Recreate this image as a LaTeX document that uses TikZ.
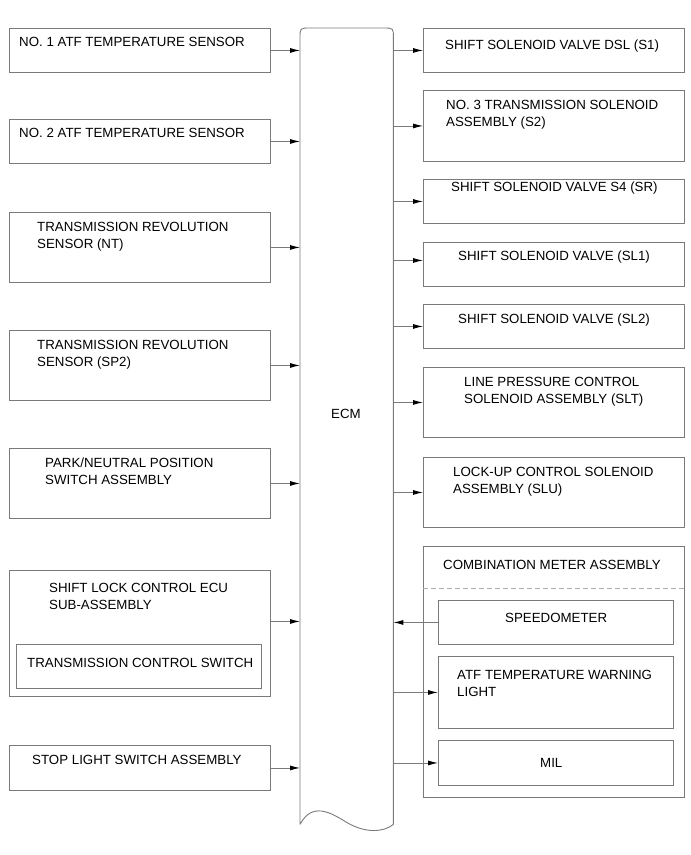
\documentclass[tikz,border=0pt]{standalone}
\usepackage{fontspec}
\setmainfont{Liberation Sans}
\usetikzlibrary{arrows.meta}
\definecolor{frame}{HTML}{7A7A7A}
\definecolor{dashgray}{HTML}{ADADAD}

\begin{document}
\begin{tikzpicture}[x=1pt,y=-1pt,
  box/.style={draw=frame,line width=0.9pt,anchor=north west,inner sep=0pt,minimum width=261pt},
  subbox/.style={box,minimum width=235pt},
  lbl/.style={anchor=base west,inner sep=0pt,align=left,font=\fontsize{13.3}{17}\selectfont},
  conn/.style={draw=frame,line width=0.9pt,-{Latex[length=10pt,width=5pt,color=black]}}]
\useasboundingbox (0,0) rectangle (691,855);
% inputs
\node[box,minimum height=44pt] (in1) at (9,28) {};
\node[lbl] (in1t) at (19,46) {NO. 1 ATF TEMPERATURE SENSOR};
\node[box,minimum height=44pt] (in2) at (9,119) {};
\node[lbl] (in2t) at (19,137) {NO. 2 ATF TEMPERATURE SENSOR};
\node[box,minimum height=70pt] (in3) at (9,212) {};
\node[lbl] (in3t) at (37,248) {TRANSMISSION REVOLUTION\\SENSOR (NT)};
\node[box,minimum height=70pt] (in4) at (9,330) {};
\node[lbl] (in4t) at (37,366) {TRANSMISSION REVOLUTION\\SENSOR (SP2)};
\node[box,minimum height=70pt] (in5) at (9,448) {};
\node[lbl] (in5t) at (45,484) {PARK/NEUTRAL POSITION\\SWITCH ASSEMBLY};
\node[box,minimum height=126pt] (in6) at (9,570) {};
\node[lbl] (in6t) at (49,609) {SHIFT LOCK CONTROL ECU\\SUB-ASSEMBLY};
\node[box,minimum width=245pt,minimum height=44pt] (tcs) at (16,644) {};
\node[lbl] (tcst) at (27,667) {TRANSMISSION CONTROL SWITCH};
\node[box,minimum height=45pt] (in7) at (9,745) {};
\node[lbl] (in7t) at (32,764) {STOP LIGHT SWITCH ASSEMBLY};
% ecm
\node[anchor=north west,inner sep=0pt,minimum width=93pt,minimum height=796pt] (ecm) at (300,28) {};
\draw[frame,line width=0.9pt] (ecm.south west) -- ([yshift=-10pt]ecm.north west)
  .. controls (ecm.north west) .. ([xshift=10pt]ecm.north west)
  -- ([xshift=-10pt]ecm.north east) .. controls (ecm.north east) .. ([yshift=-10pt]ecm.north east)
  -- (ecm.south east) .. controls (384,832) and (366,834) .. (346,822)
  .. controls (330,812) and (312,802) .. (ecm.south west);
\node[anchor=base,inner sep=0pt,font=\fontsize{13.3}{17}\selectfont] (ecmt) at (346,418) {ECM};
% outputs
\node[box,minimum height=44pt] (out1) at (423,28) {};
\node[lbl] (out1t) at (445,49) {SHIFT SOLENOID VALVE DSL (S1)};
\node[box,minimum height=71pt] (out2) at (423,90) {};
\node[lbl] (out2t) at (446,126) {NO. 3 TRANSMISSION SOLENOID\\ASSEMBLY (S2)};
\node[box,minimum height=44pt] (out3) at (423,179) {};
\node[lbl] (out3t) at (451,191) {SHIFT SOLENOID VALVE S4 (SR)};
\node[box,minimum height=44pt] (out4) at (423,242) {};
\node[lbl] (out4t) at (458,260) {SHIFT SOLENOID VALVE (SL1)};
\node[box,minimum height=44pt] (out5) at (423,304) {};
\node[lbl] (out5t) at (458,323) {SHIFT SOLENOID VALVE (SL2)};
\node[box,minimum height=70pt] (out6) at (423,367) {};
\node[lbl] (out6t) at (464,403) {LINE PRESSURE CONTROL\\SOLENOID ASSEMBLY (SLT)};
\node[box,minimum height=70pt] (out7) at (423,457) {};
\node[lbl] (out7t) at (453,493) {LOCK-UP CONTROL SOLENOID\\ASSEMBLY (SLU)};
% combination meter
\node[box,minimum height=251pt] (meter) at (423,546) {};
\node[lbl] (metert) at (443,569) {COMBINATION METER ASSEMBLY};
\draw[dashgray,line width=0.9pt,dash pattern=on 5pt off 3pt] ([yshift=-42pt]meter.north west) -- ([yshift=-42pt]meter.north east);
\node[subbox,minimum height=44pt] (speedo) at (438,600) {};
\node[lbl] (speedot) at (505,622) {SPEEDOMETER};
\node[subbox,minimum height=72pt] (atf) at (438,656) {};
\node[lbl] (atft) at (457,696) {ATF TEMPERATURE WARNING\\LIGHT};
\node[subbox,minimum height=45pt] (mil) at (438,740) {};
\node[lbl] (milt) at (540,767) {MIL};
% connectors
\foreach \n in {in1,in2,in3,in4,in5,in7}
  \draw[conn] (\n.east) -- (\n.east -| ecm.west);
\draw[conn] ([yshift=12pt]in6.east) -- ([yshift=12pt]in6.east -| ecm.west);
\foreach \n in {out1,out2,out3,out5,out6,out7}
  \draw[conn] (\n.west -| ecm.east) -- (\n.west);
\draw[conn] ([yshift=4pt]out4.west -| ecm.east) -- ([yshift=4pt]out4.west);
\draw[conn] (speedo.west) -- (speedo.west -| ecm.east);
\draw[conn] (atf.west -| ecm.east) -- (atf.west);
\draw[conn] (mil.west -| ecm.east) -- (mil.west);
\end{tikzpicture}
\end{document}
